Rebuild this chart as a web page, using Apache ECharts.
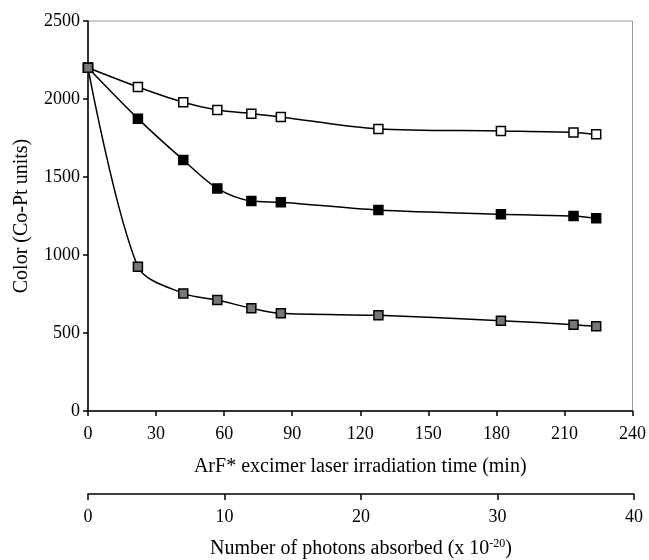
<!DOCTYPE html>
<html>
<head>
<meta charset="utf-8">
<script src="https://cdn.jsdelivr.net/npm/echarts@6/dist/echarts.min.js"></script>
<style>
  html, body { margin: 0; padding: 0; background: #fff; }
  #chart { width: 649px; height: 560px; }
</style>
</head>
<body>
<div id="chart"></div>
<script>
// irradiation time (min) and colour readings (Co-Pt units)
var timeMin = [0, 22, 42, 57, 72, 85, 128, 182, 214, 224];
var openVals = [2200, 2077, 1979, 1929, 1906, 1885, 1808, 1795, 1786, 1774];
var blackVals = [2200, 1874, 1609, 1427, 1346, 1338, 1288, 1261, 1250, 1235];
var grayVals = [2200, 925, 754, 711, 659, 626, 613, 579, 553, 543];
var timeTicks = [0, 30, 60, 90, 120, 150, 180, 210, 240];
var photonTicks = [0, 10, 20, 30, 40];

var font = 'Liberation Serif';

function pairs(vals) {
    var out = [];
    for (var i = 0; i < timeMin.length; i++) {
        out.push([timeMin[i], vals[i]]);
    }
    return out;
}

function lineSeries(vals, fill) {
    return {
        type: 'line',
        xAxisIndex: 0,
        yAxisIndex: 0,
        data: pairs(vals),
        smooth: 0.3,
        symbol: 'rect',
        symbolSize: 9,
        lineStyle: { color: '#000', width: 1.5 },
        itemStyle: { color: fill, borderColor: '#000', borderWidth: 1.5 },
        z: 3
    };
}

// plain numbers, no thousands separator
function plain(v) { return String(v); }

var myChart = echarts.init(document.getElementById('chart'));
var option = {
    animation: false,
    backgroundColor: '#fff',
    grid: [
        { left: 88, right: 15, top: 21, bottom: 149, show: true, borderColor: '#999', borderWidth: 1 },
        { left: 88, right: 15, top: 493, height: 1 }
    ],
    xAxis: [
        {
            type: 'value', gridIndex: 0, min: timeTicks[0], max: timeTicks[timeTicks.length - 1], interval: 30,
            axisLine: { lineStyle: { color: '#000', width: 1.5 } },
            axisTick: { show: true, length: 5, lineStyle: { color: '#000', width: 1.5 } },
            axisLabel: { color: '#000', fontFamily: font, fontSize: 18, margin: 14, formatter: plain },
            splitLine: { show: false },
            name: 'ArF* excimer laser irradiation time (min)',
            nameLocation: 'middle', nameGap: 46,
            nameTextStyle: { color: '#000', fontFamily: font, fontSize: 20 }
        },
        {
            type: 'value', gridIndex: 1, position: 'bottom', min: photonTicks[0], max: photonTicks[photonTicks.length - 1], interval: 10,
            axisLine: { lineStyle: { color: '#000', width: 1.5 } },
            axisTick: { show: true, length: 6, lineStyle: { color: '#000', width: 1.5 } },
            axisLabel: { color: '#000', fontFamily: font, fontSize: 18, margin: 14, formatter: plain },
            splitLine: { show: false },
            name: 'Number of photons absorbed (x 10{sup|-20})',
            nameLocation: 'middle', nameGap: 44,
            nameTextStyle: {
                color: '#000', fontFamily: font, fontSize: 20,
                rich: { sup: { fontFamily: font, fontSize: 12, color: '#000', padding: [0, 0, 10, 0] } }
            }
        }
    ],
    yAxis: [
        {
            type: 'value', gridIndex: 0, min: 0, max: 2500, interval: 500,
            axisLine: { show: true, lineStyle: { color: '#000', width: 1.5 } },
            axisTick: { show: true, length: 5, lineStyle: { color: '#000', width: 1.5 } },
            axisLabel: { color: '#000', fontFamily: font, fontSize: 18, margin: 8, formatter: plain },
            splitLine: { show: false },
            name: 'Color (Co-Pt units)',
            nameLocation: 'middle', nameGap: 56,
            nameTextStyle: { color: '#000', fontFamily: font, fontSize: 20 }
        },
        {
            type: 'value', gridIndex: 1, show: false, min: 0, max: 1
        }
    ],
    series: [
        lineSeries(openVals, '#fff'),
        lineSeries(blackVals, '#000'),
        lineSeries(grayVals, '#777')
    ]
};
myChart.setOption(option);
</script>
</body>
</html>
